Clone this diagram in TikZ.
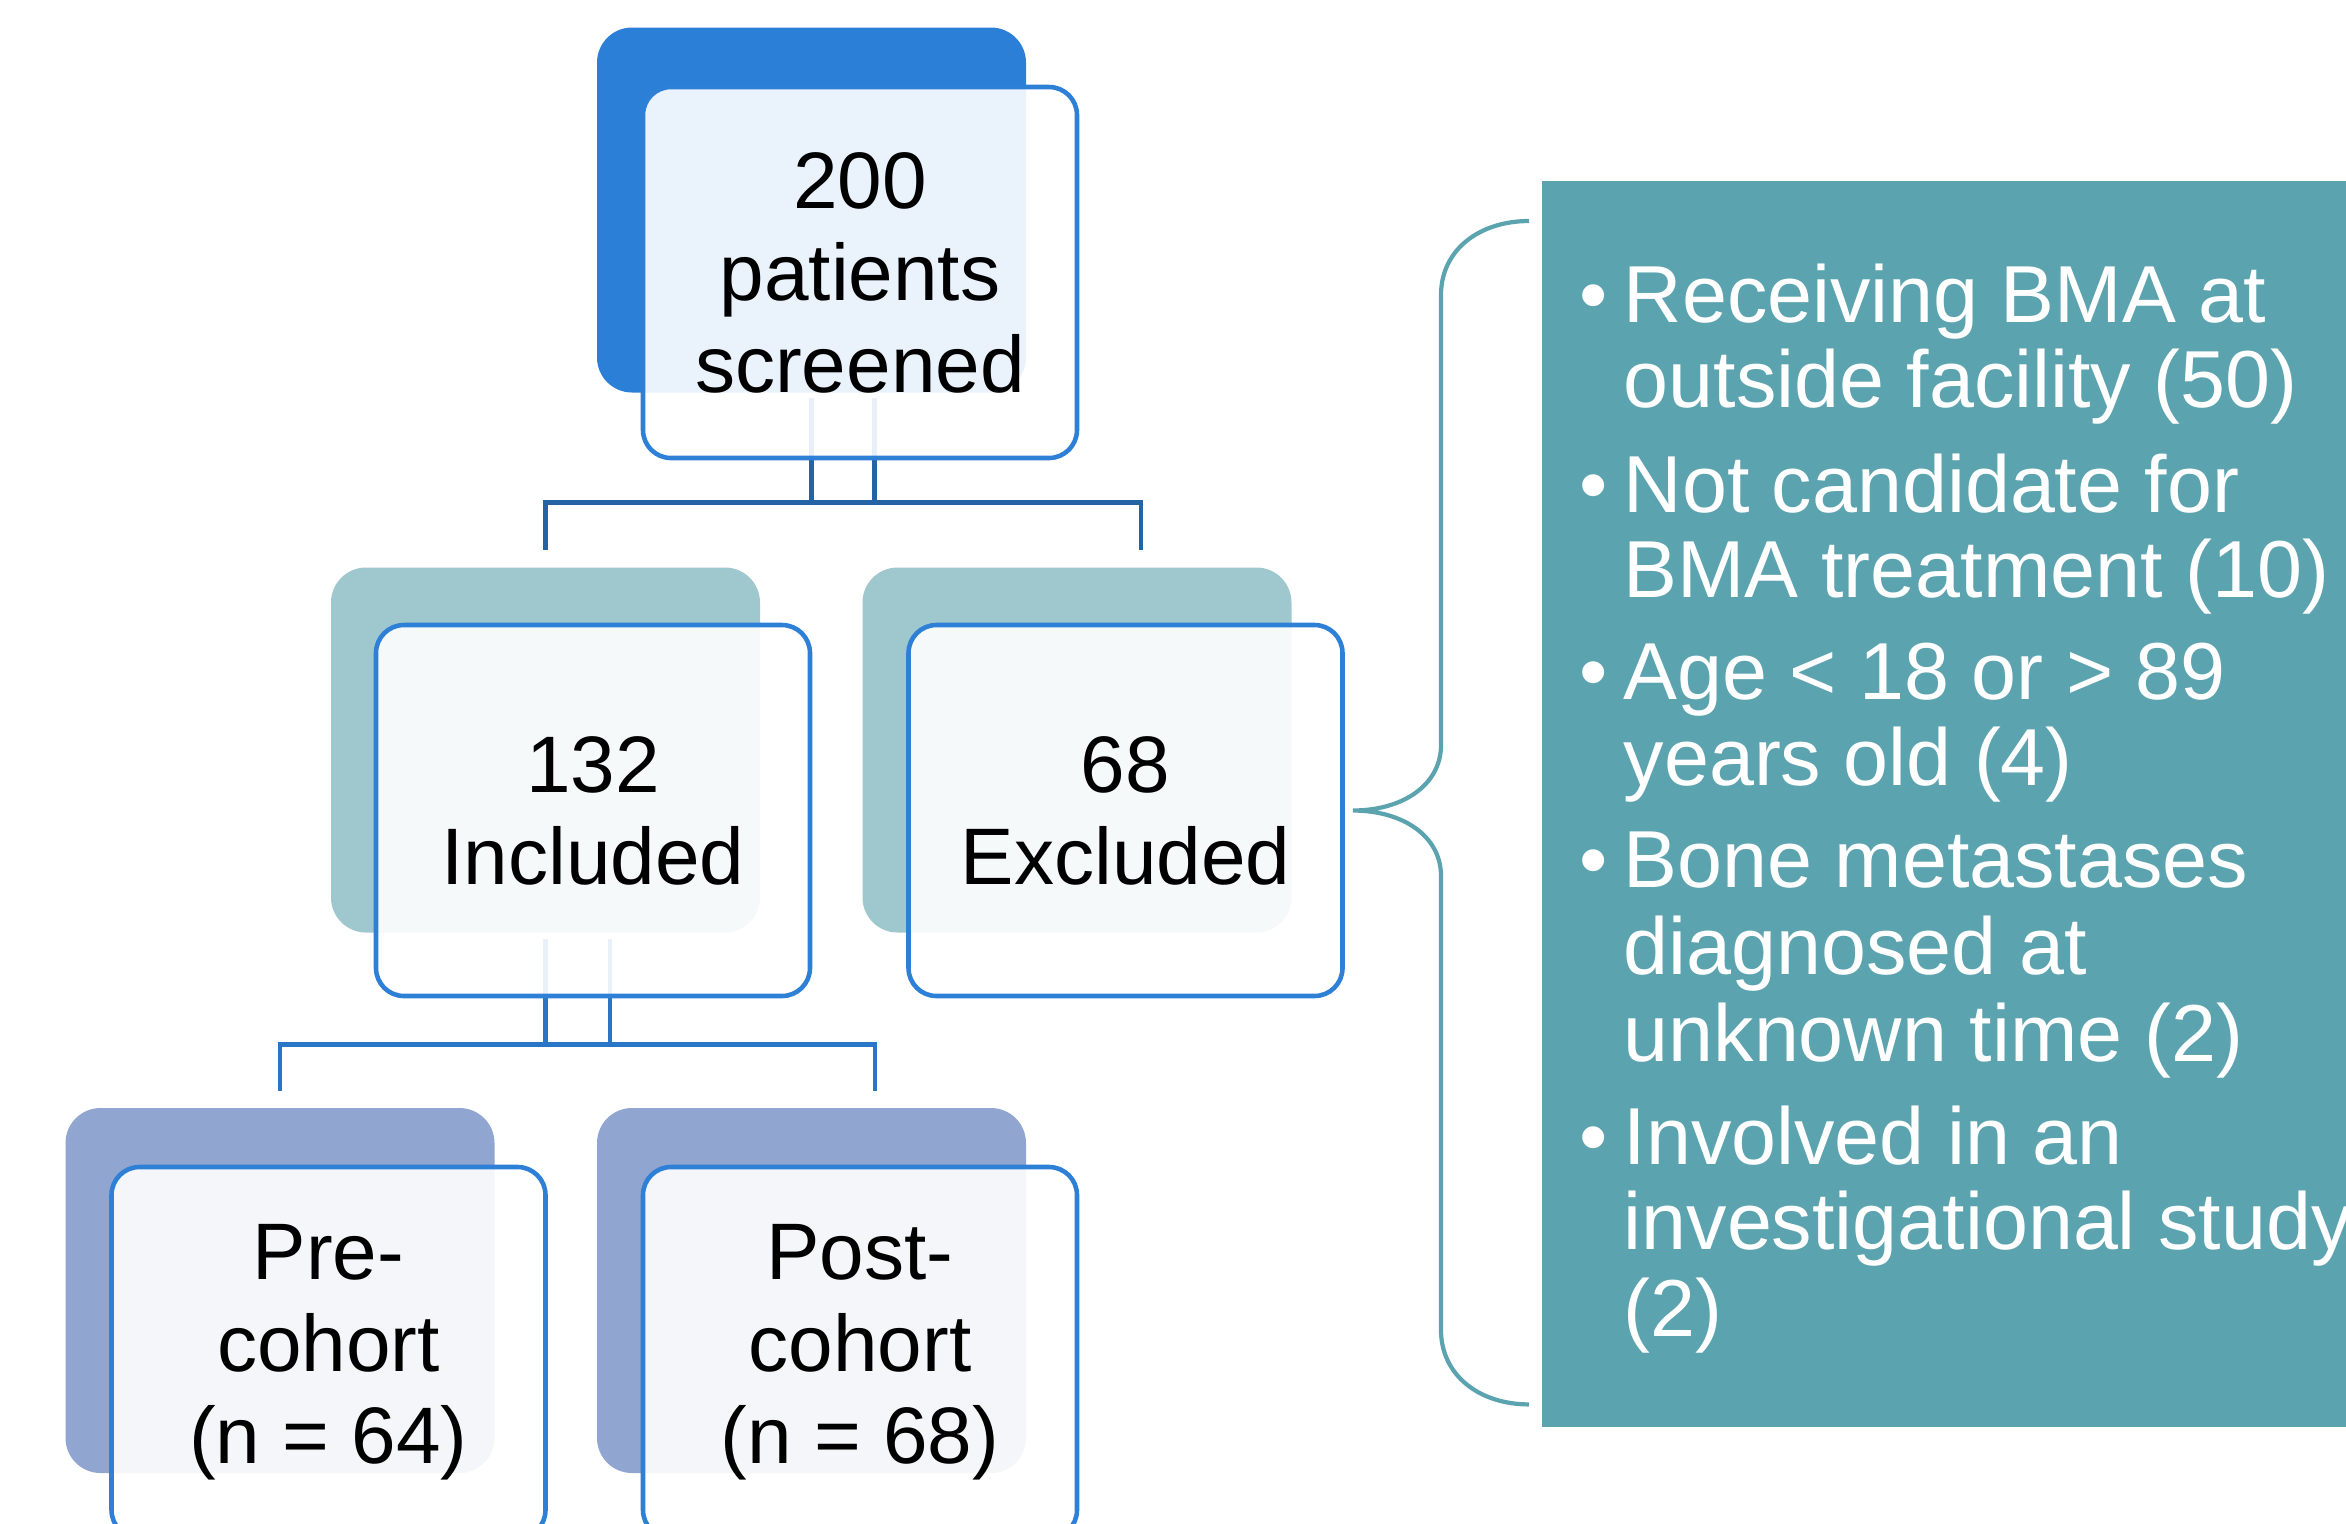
\documentclass[tikz,border=0pt]{standalone}
\usepackage{fontspec}
\setmainfont{Liberation Sans}
\usetikzlibrary{positioning}
\definecolor{sc_blue}{HTML}{2C7FD7}
\definecolor{sc_edge}{HTML}{2E80D6}
\definecolor{sc_link}{HTML}{2463A6}
\definecolor{sc_link_lo}{HTML}{2A76C6}
\definecolor{sc_teal}{HTML}{9FC7CE}
\definecolor{sc_lav}{HTML}{91A5D1}
\definecolor{sc_panel}{HTML}{5BA3AE}

\tikzset{
  backbox/.style={rectangle, rounded corners=0.35cm, minimum width=4.29cm,
    minimum height=3.65cm, inner sep=0pt},
  frontbox/.style={rectangle, rounded corners=0.28cm, draw=sc_edge, line width=1.3pt,
    fill=white, fill opacity=0.9, text opacity=1, minimum width=4.34cm,
    minimum height=3.71cm, inner sep=0pt, align=center,
    font=\fontsize{22.8}{26.2}\selectfont},
  link/.style={sc_link, line width=1.4pt},
  bracket/.style={sc_panel, line width=1.2pt},
  exitem/.style={anchor=base west, inner sep=0pt, text=white,
    font=\fontsize{23}{24.4}\selectfont}
}

\begin{document}
\begin{tikzpicture}[y=-1cm]
        \useasboundingbox (0,0) rectangle (23.46,15.23);
        \clip (0,0) rectangle (23.46,15.23);

        % shadow boxes
        \node[backbox, fill=sc_blue] (screenbk) at (8.115,2.10) {};
        \node[backbox, fill=sc_teal] (incbk) at (5.455,7.50) {};
        \node[backbox, fill=sc_teal] (excbk) at (10.77,7.50) {};
        \node[backbox, fill=sc_lav] (prebk) at (2.80,12.905) {};
        \node[backbox, fill=sc_lav] (postbk) at (8.115,12.905) {};

        % screened -> included / excluded
        \draw[link] ([yshift=-0.05cm]screenbk.south) -- ++(0,1.04) coordinate (t1);
        \draw[link] ([xshift=0.63cm,yshift=-0.05cm]screenbk.south) -- ++(0,1.04);
        \coordinate (d1) at ([yshift=0.17cm]incbk.north);
        \coordinate (d2) at ([xshift=0.64cm,yshift=0.17cm]excbk.north);
        \draw[link] (d1) -- (d1 |- t1) -- (d2 |- t1) -- (d2);

        % included -> cohorts
        \draw[link, sc_link_lo] ([yshift=-0.06cm]incbk.south) -- ++(0,1.05) coordinate (t2);
        \draw[link, sc_link_lo] ([xshift=0.645cm,yshift=-0.06cm]incbk.south) -- ++(0,1.05);
        \coordinate (d3) at ([yshift=0.16cm]prebk.north);
        \coordinate (d4) at ([xshift=0.635cm,yshift=0.16cm]postbk.north);
        \draw[link, sc_link_lo] (d3) -- (d3 |- t2) -- (d4 |- t2) -- (d4);

        % front boxes
        \node[frontbox] (screen) at (8.60,2.725) {200\\patients\\screened};
        \node[frontbox] (incl) at (5.93,8.105) {132\\Included};
        \node[frontbox] (excl) at (11.255,8.105) {68\\Excluded};
        \node[frontbox] (pre) at (3.285,13.525) {Pre-\\cohort\\(n = 64)};
        \node[frontbox] (post) at (8.60,13.525) {Post-\\cohort\\(n = 68)};

        % exclusion reasons
        \node[fill=sc_panel, anchor=north west, inner sep=0pt, minimum width=8.6cm,
          minimum height=12.46cm] (panel) at (15.41,1.80) {};
        \coordinate (btop) at ([xshift=-0.12cm,yshift=-0.41cm]panel.north west);
        \coordinate (bbot) at ([xshift=-0.12cm,yshift=0.23cm]panel.south west);
        \coordinate (btip) at ([xshift=0.08cm]excl.east);
        \draw[bracket] (btop) .. controls +(-0.5,0) and +(0,-0.45) .. (14.41,2.95)
          -- (14.41,7.45) .. controls +(0,0.4) and +(0.5,0) .. (btip)
          .. controls +(0.5,0) and +(0,-0.4) .. (14.41,8.76)
          -- (14.41,13.30) .. controls +(0,0.45) and +(-0.5,0) .. (bbot);

        \foreach \yy [count=\i] in {3.22,5.12,6.99,8.87,11.64}
          \node[exitem] (dot\i) at (15.79,\yy) {\textbullet};
        \foreach \yy/\txt [count=\i] in {3.22/Receiving BMA at, 4.07/outside facility (50),
            5.12/Not candidate for, 5.97/BMA treatment (10),
            6.99/Age < 18 or > 89, 7.85/years old (4),
            8.87/Bone metastases, 9.74/diagnosed at, 10.61/unknown time (2),
            11.64/Involved in an, 12.49/investigational study, 13.36/(2)}
          \node[exitem] (line\i) at (16.23,\yy) {\txt};

\end{tikzpicture}
\end{document}
